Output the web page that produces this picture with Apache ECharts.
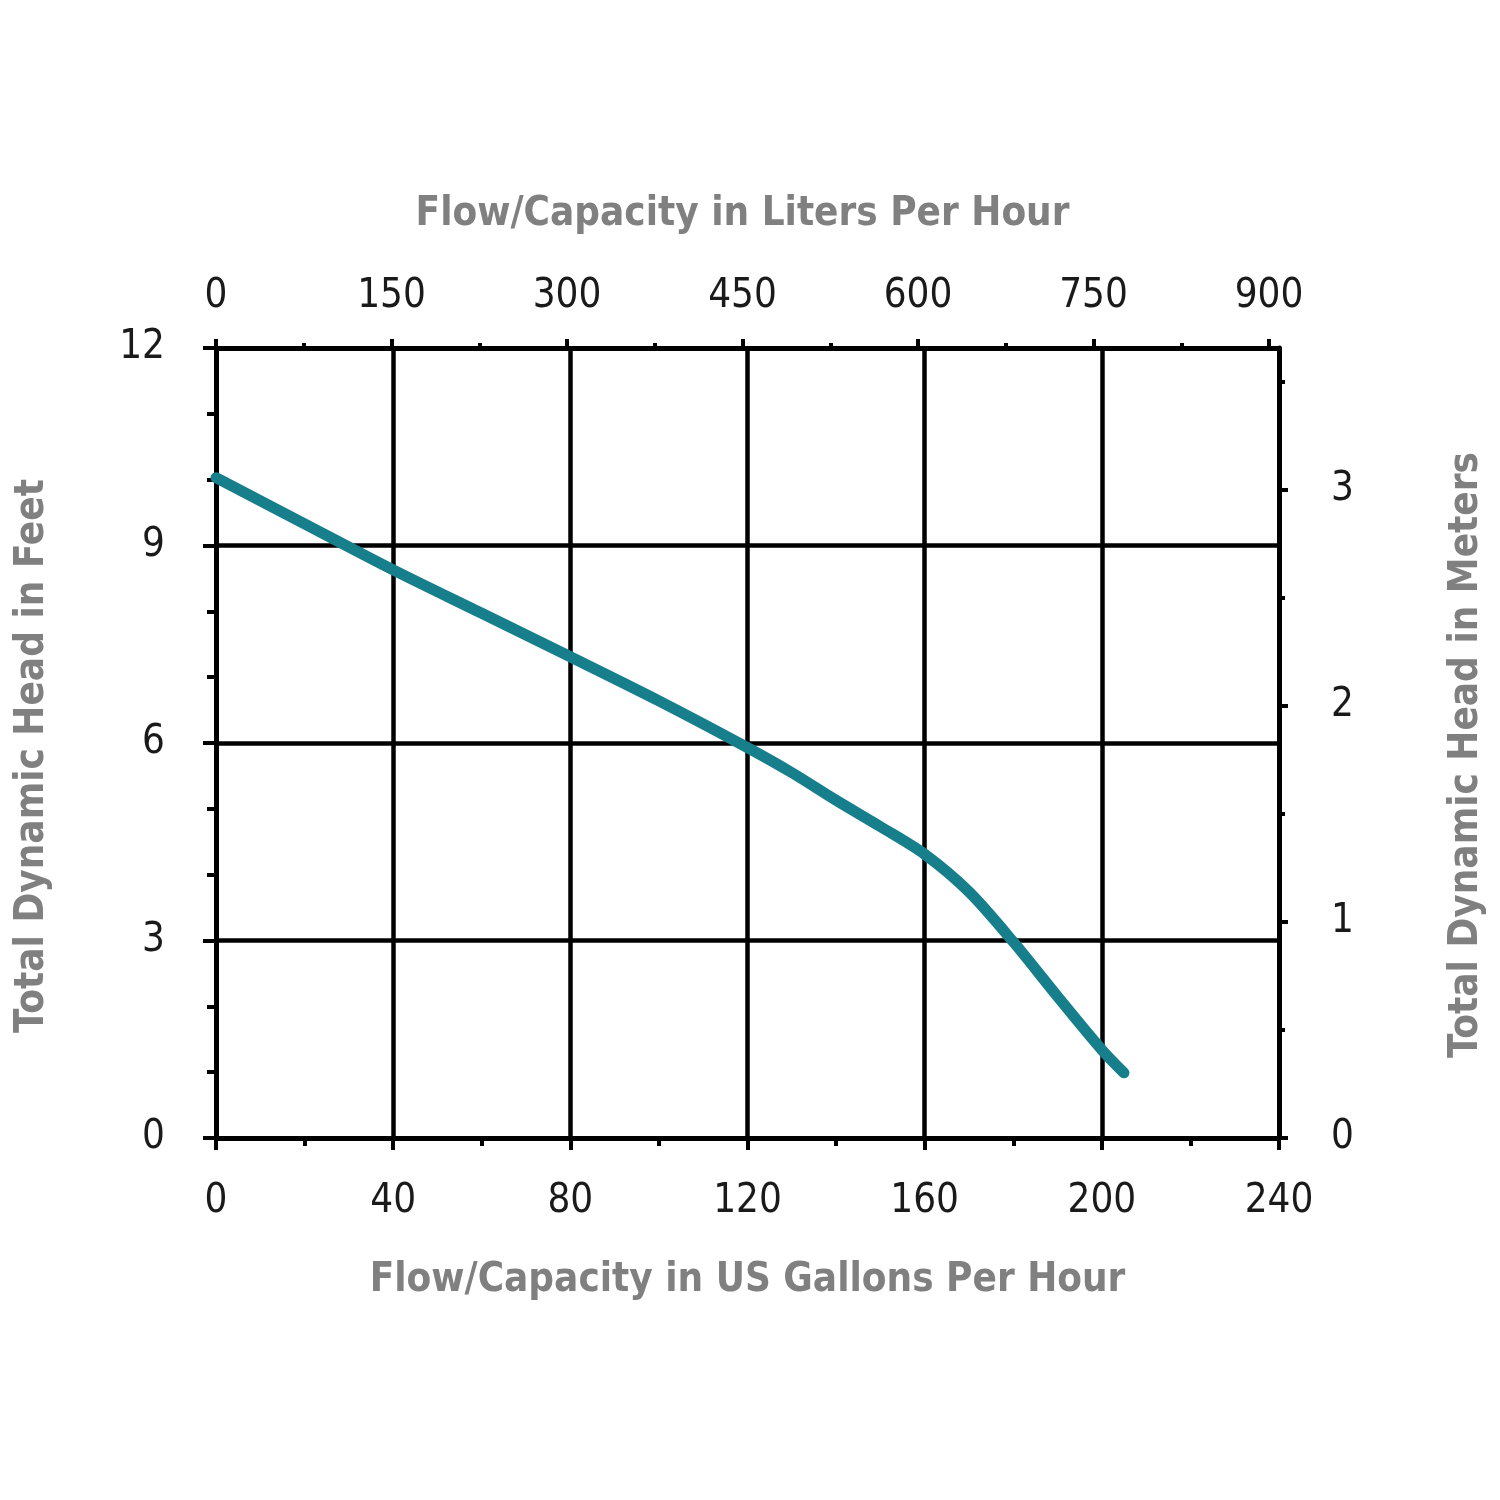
<!DOCTYPE html>
<html><head><meta charset="utf-8">
<script src="https://cdn.jsdelivr.net/npm/echarts@6/dist/echarts.min.js"></script>
<style>html,body{margin:0;padding:0;background:#fff}#c{width:1500px;height:1500px}</style>
</head><body><div id="c"></div>
<script>
// Flow in US gallons per hour
const flowGPH = [0, 20, 40, 60, 80, 100, 120, 130, 140, 150, 160, 170, 180, 190, 200, 205];
// Total dynamic head in feet
const headFt = [10.03, 9.33, 8.63, 7.97, 7.31, 6.64, 5.93, 5.55, 5.13, 4.73, 4.31, 3.74, 2.98, 2.15, 1.34, 0.99];
const gphRange = [0, 240, 40];   // min, max, interval (bottom axis)
const lphRange = [0, 900, 150];  // top axis, liters per hour
const ftRange = [0, 12, 3];      // left axis, feet
const mRange = [0, 3, 1];        // right axis, meters (labelled part)
const mTopRange = [3, 3.5, 0.5]; // right axis, last half-metre tick

const GPH_TO_LPH = 3.7854, FT_TO_M = 0.3048;
const FONT = '"DejaVu Sans Condensed", "Liberation Sans", sans-serif';
const titleStyle = {color: '#808080', fontSize: 40, fontWeight: 'bold', fontFamily: FONT};
const lab = {color: '#1a1a1a', fontSize: 40, fontFamily: FONT};
const AX = {onZero: false, lineStyle: {color: '#000', width: 5}};
const NOAX = {show: false, onZero: false};
const SPL = {show: true, lineStyle: {color: '#000', width: 4.5}};
const TK = (len) => ({show: true, length: len, lineStyle: {color: '#000', width: 4}});
const HID = {type: 'value', show: false, min: 0, max: 1, axisLine: NOAX};

// plot box in pixels
const L = 216, R = 1279, T = 348, B = 1138, W = 1500, H = 1500;
const plotW = R - L, plotH = B - T;
const lphRight = L + plotW * (lphRange[1] / (gphRange[1] * GPH_TO_LPH));
const mPx = plotH / (ftRange[1] * FT_TO_M);

const chart = echarts.init(document.getElementById('c'));
chart.setOption({
  backgroundColor: '#fff',
  animation: false,
  grid: [
    {left: L, right: W - R, top: T, bottom: H - B},
    {left: L, right: W - lphRight, top: T, bottom: H - B},
    {left: L, right: W - R, top: B - mRange[1] * mPx, bottom: H - B},
    {left: L, right: W - R, top: B - mTopRange[1] * mPx, bottom: H - (B - mTopRange[0] * mPx)}
  ],
  xAxis: [
    {gridIndex: 0, type: 'value', position: 'bottom', min: gphRange[0], max: gphRange[1], interval: gphRange[2],
     axisLine: AX, splitLine: SPL, axisTick: TK(12),
     minorTick: {show: true, splitNumber: 2, length: 8, lineStyle: {color: '#000', width: 4}},
     axisLabel: Object.assign({margin: 44}, lab),
     name: 'Flow/Capacity in US Gallons Per Hour', nameLocation: 'middle', nameGap: 123,
     nameTextStyle: titleStyle},
    {gridIndex: 0, type: 'value', position: 'top', min: 0, max: 1,
     axisLine: AX, splitLine: {show: false}, axisTick: {show: false}, axisLabel: {show: false}},
    {gridIndex: 1, type: 'value', position: 'top', min: lphRange[0], max: lphRange[1], interval: lphRange[2],
     axisLine: NOAX, splitLine: {show: false}, axisTick: TK(9),
     minorTick: {show: true, splitNumber: 2, length: 5, lineStyle: {color: '#000', width: 4}},
     axisLabel: Object.assign({margin: 31}, lab),
     name: 'Flow/Capacity in Liters Per Hour', nameLocation: 'middle', nameGap: 113,
     nameTextStyle: titleStyle},
    Object.assign({gridIndex: 2}, HID),
    Object.assign({gridIndex: 3}, HID)
  ],
  yAxis: [
    {gridIndex: 0, type: 'value', position: 'left', min: ftRange[0], max: ftRange[1], interval: ftRange[2],
     axisLine: AX, splitLine: SPL, axisTick: TK(13),
     minorTick: {show: true, splitNumber: 3, length: 9, lineStyle: {color: '#000', width: 4}},
     axisLabel: Object.assign({margin: 51}, lab),
     name: 'Total Dynamic Head in Feet', nameLocation: 'middle', nameGap: 163,
     nameTextStyle: Object.assign({padding: [0, 26, 0, 0]}, titleStyle)},
    {gridIndex: 0, type: 'value', position: 'right', min: 0, max: 1,
     axisLine: AX, splitLine: {show: false}, axisTick: {show: false}, axisLabel: {show: false},
     name: 'Total Dynamic Head in Meters', nameLocation: 'middle', nameGap: 168,
     nameTextStyle: Object.assign({padding: [0, 24, 0, 0]}, titleStyle)},
    Object.assign({gridIndex: 1}, HID),
    {gridIndex: 2, type: 'value', position: 'right', min: mRange[0], max: mRange[1], interval: mRange[2],
     axisLine: NOAX, splitLine: {show: false}, axisTick: TK(9),
     minorTick: {show: true, splitNumber: 2, length: 6, lineStyle: {color: '#000', width: 4}},
     axisLabel: Object.assign({margin: 52}, lab)},
    {gridIndex: 3, type: 'value', position: 'right', min: mTopRange[0], max: mTopRange[1], interval: mTopRange[2],
     axisLine: NOAX, splitLine: {show: false}, axisTick: TK(6), axisLabel: {show: false}}
  ],
  series: [{
    type: 'line', xAxisIndex: 0, yAxisIndex: 0,
    data: flowGPH.map((x, i) => [x, headFt[i]]),
    smooth: 0.3, symbol: 'none',
    lineStyle: {color: '#177f8b', width: 11, cap: 'round', join: 'round'}
  }]
});
</script></body></html>
